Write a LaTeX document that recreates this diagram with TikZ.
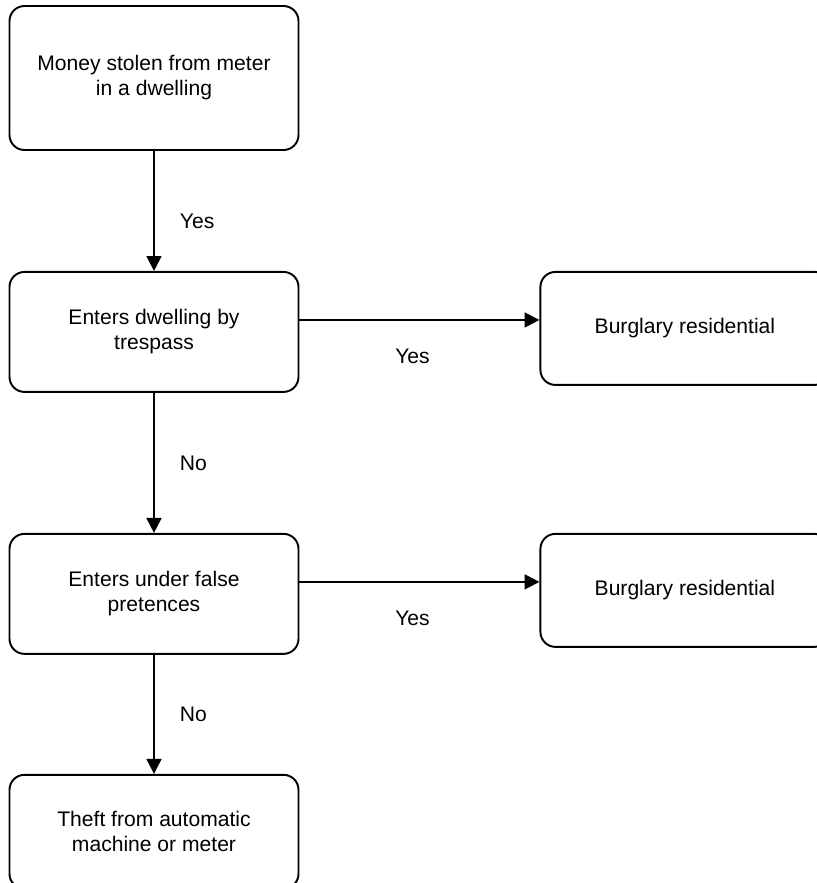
\documentclass[tikz,border=0pt]{standalone}
\usepackage{fontspec}
\setmainfont{Liberation Sans}
\usepackage{tikz}
\usetikzlibrary{arrows.meta, positioning}

\begin{document}
\begin{tikzpicture}[
    block/.style = {draw, line width=1.1pt, rounded corners=0.3cm, minimum width=5.78cm,
                    minimum height=2.4cm, align=center, font=\fontsize{12}{14.2}\selectfont},
    arrow/.style = {line width=1.1pt, -{Triangle[length=8.5pt, width=8.5pt]}},
    lbl/.style = {inner sep=0pt, font=\fontsize{12}{14.2}\selectfont},
    node distance=2.4cm and 4.8cm
  ]

  % page frame (right and bottom boxes run off the edge)
  \path[use as bounding box, clip] (0,0) rectangle (16.34,-17.66);

  % left column
  \node[block, minimum height=2.88cm] (meter) at (3.08,-1.56) {Money stolen from meter\\in a dwelling};
  \node[block, below=of meter] (trespass) {Enters dwelling by\\trespass};
  \node[block, below=2.8cm of trespass] (pretences) {Enters under false\\pretences};
  \node[block, below=2.38cm of pretences, minimum height=2.28cm] (theft) {Theft from automatic\\machine or meter};

  % right column, top aligned with the left boxes
  \node[block, minimum height=2.26cm, right=of trespass.north east, anchor=north west] (burglaryA) {Burglary residential};
  \node[block, minimum height=2.26cm, right=of pretences.north east, anchor=north west] (burglaryB) {Burglary residential};

  % downward answers
  \draw[arrow] (meter.south) -- node[lbl, midway, right=0.5cm, yshift=-0.2cm] {Yes} (trespass.north);
  \draw[arrow] (trespass.south) -- node[lbl, midway, right=0.5cm] {No} (pretences.north);
  \draw[arrow] (pretences.south) -- node[lbl, midway, right=0.5cm] {No} (theft.north);

  % sideways answers
  \draw[arrow] ([yshift=-0.98cm]trespass.north east) -- node[lbl, midway, below=0.57cm, xshift=-0.14cm] {Yes} ([yshift=-0.98cm]burglaryA.north west);
  \draw[arrow] ([yshift=-0.98cm]pretences.north east) -- node[lbl, midway, below=0.57cm, xshift=-0.14cm] {Yes} ([yshift=-0.98cm]burglaryB.north west);

\end{tikzpicture}
\end{document}
